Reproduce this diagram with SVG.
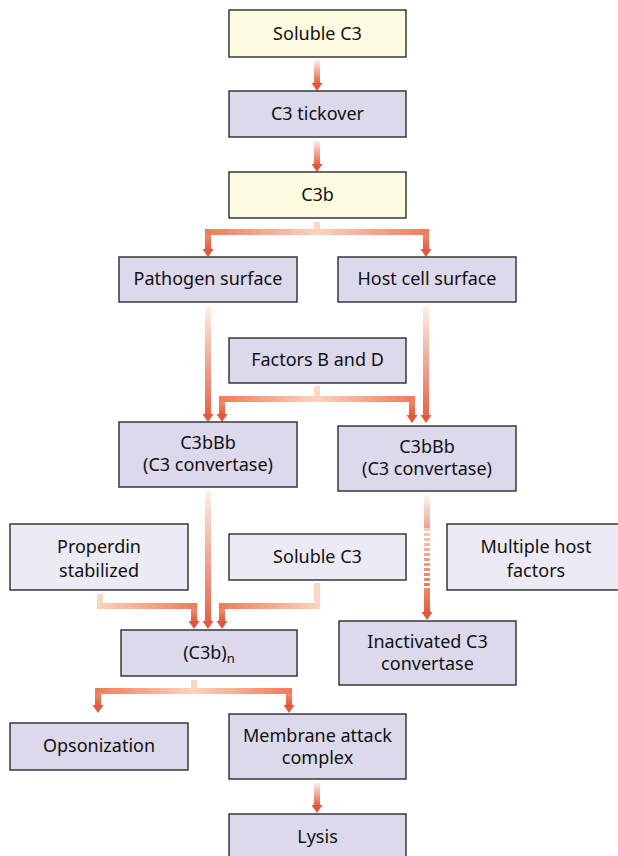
<svg xmlns="http://www.w3.org/2000/svg" width="618" height="856" viewBox="0 0 618 856">
<defs>
<linearGradient id="gv" x1="0" y1="0" x2="0" y2="1">
<stop offset="0" stop-color="#fdeee6"/>
<stop offset="1" stop-color="#ec6243"/>
</linearGradient>
<linearGradient id="gd" x1="0" y1="0" x2="0" y2="1">
<stop offset="0" stop-color="#f08a68"/>
<stop offset="1" stop-color="#ea5a3c"/>
</linearGradient>
<linearGradient id="gdash" x1="0" y1="0" x2="0" y2="1">
<stop offset="0" stop-color="#fbd0bc"/>
<stop offset="1" stop-color="#f07654"/>
</linearGradient>
<linearGradient id="gh" x1="0" y1="0" x2="1" y2="0">
<stop offset="0" stop-color="#ef7b58"/>
<stop offset="0.5" stop-color="#fbd3bf"/>
<stop offset="1" stop-color="#ef7b58"/>
</linearGradient>
<linearGradient id="ghL" x1="0" y1="0" x2="1" y2="0">
<stop offset="0" stop-color="#fbd3bf"/>
<stop offset="1" stop-color="#ef7b58"/>
</linearGradient>
<linearGradient id="ghR" x1="0" y1="0" x2="1" y2="0">
<stop offset="0" stop-color="#ef7b58"/>
<stop offset="1" stop-color="#fbd3bf"/>
</linearGradient>
<pattern id="dash" x="0" y="528" width="6" height="5" patternUnits="userSpaceOnUse">
<rect x="0" y="0" width="6" height="3" fill="#fff"/>
</pattern>
<mask id="dm" maskUnits="userSpaceOnUse" x="420" y="525" width="14" height="66">
<rect x="424" y="528" width="6" height="60" fill="url(#dash)"/>
</mask>
</defs>
<style>
.b{fill:#dcd9ec;stroke:#2b2b2b;stroke-width:1.4}
.y{fill:#fdfbe0;stroke:#2b2b2b;stroke-width:1.4}
.l{fill:#ecebf5;stroke:#2b2b2b;stroke-width:1.4}
text{font-family:"Noto Sans","Open Sans","Liberation Sans",sans-serif;font-size:18px;fill:#111;text-anchor:middle}
.h{fill:#e9553a}
.st{fill:#fbd8c6}
</style>

<g id="connectors">
<rect x="314" y="60" width="6" height="23" fill="url(#gv)"/>
<polygon class="h" points="311.5,83 322.5,83 317,91"/>
<rect x="314" y="141" width="6" height="23" fill="url(#gv)"/>
<polygon class="h" points="311.5,164 322.5,164 317,172"/>
<rect class="st" x="314" y="222" width="6" height="8"/>
<rect x="205" y="229" width="224" height="6" fill="url(#gh)"/>
<rect x="205" y="235" width="6" height="14" fill="url(#gd)"/>
<polygon class="h" points="202.5,249 213.5,249 208,257"/>
<rect x="423" y="235" width="6" height="14" fill="url(#gd)"/>
<polygon class="h" points="420.5,249 431.5,249 426,257"/>
<rect x="205" y="307" width="6" height="107" fill="url(#gv)"/>
<polygon class="h" points="202.5,414 213.5,414 208,422"/>
<rect x="423" y="307" width="6" height="108" fill="url(#gv)"/>
<polygon class="h" points="420.5,415 431.5,415 426,423"/>
<rect class="st" x="314" y="386" width="6" height="11"/>
<rect x="219" y="396" width="196" height="6" fill="url(#gh)"/>
<rect x="219" y="402" width="6" height="12" fill="url(#gd)"/>
<polygon class="h" points="216.5,414 227.5,414 222,422"/>
<rect x="409" y="402" width="6" height="13" fill="url(#gd)"/>
<polygon class="h" points="406.5,415 417.5,415 412,423"/>
<rect x="205" y="491" width="6" height="130" fill="url(#gv)"/>
<polygon class="h" points="202.5,621 213.5,621 208,629"/>
<rect class="st" x="97" y="594" width="6" height="9"/>
<rect x="97" y="603" width="100" height="6" fill="url(#ghL)"/>
<rect x="191" y="609" width="6" height="12" fill="url(#gd)"/>
<polygon class="h" points="188.5,621 199.5,621 194,629"/>
<rect class="st" x="314" y="583" width="6" height="20"/>
<rect x="219" y="603" width="101" height="6" fill="url(#ghR)"/>
<rect x="219" y="609" width="6" height="12" fill="url(#gd)"/>
<polygon class="h" points="216.5,621 227.5,621 222,629"/>
<rect x="424" y="495" width="6" height="33" fill="url(#gv)" opacity="0.6"/>
<rect x="424" y="528" width="6" height="60" fill="url(#gdash)" mask="url(#dm)"/>
<rect x="424" y="588" width="6" height="24" fill="url(#gd)"/>
<polygon class="h" points="421.5,612 432.5,612 427,620"/>
<rect class="st" x="191" y="680" width="6" height="9"/>
<rect x="95" y="688" width="197" height="6" fill="url(#gh)"/>
<rect x="95" y="694" width="6" height="11" fill="url(#gd)"/>
<polygon class="h" points="92.5,705 103.5,705 98,713"/>
<rect x="286" y="694" width="6" height="11" fill="url(#gd)"/>
<polygon class="h" points="283.5,705 294.5,705 289,713"/>
<rect x="314" y="783" width="6" height="22" fill="url(#gv)"/>
<polygon class="h" points="311.5,805 322.5,805 317,813"/>
</g>

<g id="soluble-c3"><rect class="y" x="229" y="10" width="177" height="47"/><text x="317.5" y="40">Soluble C3</text></g>
<g id="c3-tickover"><rect class="b" x="229" y="91" width="177" height="46"/><text x="317.5" y="120">C3 tickover</text></g>
<g id="c3b"><rect class="y" x="229" y="172" width="177" height="46"/><text x="317.5" y="201">C3b</text></g>
<g id="pathogen-surface"><rect class="b" x="119" y="257" width="178" height="45"/><text x="208" y="285">Pathogen surface</text></g>
<g id="host-cell-surface"><rect class="b" x="338" y="257" width="178" height="45"/><text x="427" y="285">Host cell surface</text></g>
<g id="factors-b-d"><rect class="b" x="229" y="338" width="177" height="45"/><text x="317.5" y="366">Factors B and D</text></g>
<g id="c3bbb-left"><rect class="b" x="119" y="422" width="178" height="65"/><text x="208" y="449">C3bBb</text><text x="208" y="471">(C3 convertase)</text></g>
<g id="c3bbb-right"><rect class="b" x="338" y="426" width="178" height="65"/><text x="427" y="453">C3bBb</text><text x="427" y="475">(C3 convertase)</text></g>
<g id="properdin"><rect class="l" x="10" y="524" width="178" height="66"/><text x="99" y="553">Properdin</text><text x="99" y="577">stabilized</text></g>
<g id="soluble-c3-2"><rect class="l" x="229" y="534" width="177" height="46"/><text x="317.5" y="563">Soluble C3</text></g>
<g id="multiple-host-factors"><rect class="l" x="447" y="524" width="175" height="66"/><text x="536" y="553">Multiple host</text><text x="536" y="577">factors</text></g>
<g id="c3b-n"><rect class="b" x="121" y="630" width="176" height="46"/><text x="209" y="659">(C3b)<tspan font-size="13" dy="4">n</tspan></text></g>
<g id="inactivated"><rect class="b" x="339" y="621" width="177" height="64"/><text x="427.5" y="648">Inactivated C3</text><text x="427.5" y="670">convertase</text></g>
<g id="opsonization"><rect class="b" x="10" y="723" width="178" height="47"/><text x="99" y="752">Opsonization</text></g>
<g id="mac"><rect class="b" x="229" y="714" width="177" height="65"/><text x="317.5" y="742">Membrane attack</text><text x="317.5" y="764">complex</text></g>
<g id="lysis"><rect class="b" x="229" y="814" width="177" height="50"/><text x="317.5" y="843">Lysis</text></g>
</svg>
